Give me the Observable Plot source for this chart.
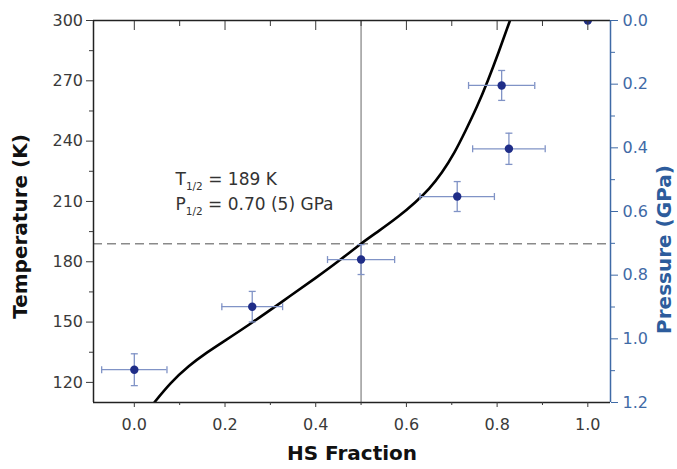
<!DOCTYPE html>
<html><head><meta charset="utf-8">
<script src="https://cdn.jsdelivr.net/npm/d3@7"></script>
<script src="https://cdn.jsdelivr.net/npm/@observablehq/plot@0.6"></script>
<style>body{margin:0;background:#fff}</style>
</head><body><div id="chart"></div>
<script>
// Scale domains and ticks
const xDomain = [-0.09, 1.05];
const tempDomain = [110, 300];
const pressureDomain = [0, 1.2];
const xTicks = [0, 0.2, 0.4, 0.6, 0.8, 1.0];
const xMinorTicks = [0.1, 0.3, 0.5, 0.7, 0.9];
const tempTicks = [120, 150, 180, 210, 240, 270, 300];
const tempMinorTicks = [135, 165, 195, 225, 255, 285];
const pressureTicks = [0, 0.2, 0.4, 0.6, 0.8, 1.0, 1.2];
const pressureMinorTicks = [0.1, 0.3, 0.5, 0.7, 0.9, 1.1];
const halfFraction = 0.5;
const tHalf = 189;
const pHalfText = "0.70 (5)";

// Fitted curve (HS fraction vs temperature)
const curveFraction = [0.044, 0.08, 0.12, 0.16, 0.20, 0.26, 0.33, 0.40, 0.454, 0.50, 0.540, 0.582, 0.619, 0.650, 0.678, 0.7055, 0.7306, 0.7555, 0.7796, 0.803, 0.8284];
const curveTemp = [110, 119.5, 128, 134.8, 140.8, 149.8, 160.8, 172, 181, 189, 195.5, 202.5, 209.5, 216.4, 224.4, 234.3, 245.3, 257.2, 270.2, 284.1, 300];

// Measured points (HS fraction vs pressure)
const hsFraction = [0.0, 0.26, 0.5, 0.712, 0.826, 0.81, 1.0];
const hsError = [0.072, 0.067, 0.074, 0.082, 0.080, 0.073, 0];
const pressure = [1.097, 0.899, 0.751, 0.553, 0.403, 0.204, 0.0];
const pressureError = [0.05, 0.048, 0.047, 0.047, 0.049, 0.047, 0];

const axisBlue = "#3f6aa6", labelBlue = "#2d5c9c", errColor = "#8093c6", dotColor = "#1f2d88";

// twin-axis mapping: pressure axis spans the same frame as the temperature axis
const p2T = p => tempDomain[1] - (p - pressureDomain[0]) / (pressureDomain[1] - pressureDomain[0]) * (tempDomain[1] - tempDomain[0]);

const pts = hsFraction.map((x, i) => ({
  x, xe: hsError[i], T: p2T(pressure[i]),
  T1: p2T(pressure[i] - pressureError[i]), T2: p2T(pressure[i] + pressureError[i])
}));
const bars = pts.filter(d => d.xe > 0);
const curve = curveFraction.map((x, i) => ({x, T: curveTemp[i]}));

const capV = {draw(ctx, size) { const h = Math.sqrt(size / Math.PI); ctx.moveTo(0, -h); ctx.lineTo(0, h); }};
const capH = {draw(ctx, size) { const h = Math.sqrt(size / Math.PI); ctx.moveTo(-h, 0); ctx.lineTo(h, 0); }};
const capStyle = {r: 3.5, stroke: errColor, strokeWidth: 1.3, fill: "none"};
const tickCol = "#3a3a3a";

const chart = Plot.plot({
  width: 677, height: 469,
  marginLeft: 93, marginRight: 67, marginTop: 20, marginBottom: 67,
  style: {fontFamily: "'DejaVu Sans', sans-serif", background: "#fff"},
  x: {domain: xDomain},
  y: {domain: tempDomain},
  marks: [
    Plot.ruleX([halfFraction], {stroke: "#8a8a8a", strokeWidth: 1.3}),
    Plot.ruleY([tHalf], {stroke: "#8a8a8a", strokeWidth: 1.5, strokeDasharray: "9,5"}),
    Plot.line(curve, {x: "x", y: "T", curve: "natural", stroke: "#000", strokeWidth: 2.6, clip: true}),
    Plot.ruleY(bars, {y: "T", x1: d => d.x - d.xe, x2: d => d.x + d.xe, stroke: errColor, strokeWidth: 1.3}),
    Plot.ruleX(bars, {x: "x", y1: "T1", y2: "T2", stroke: errColor, strokeWidth: 1.3}),
    Plot.dot(bars, {x: d => d.x - d.xe, y: "T", symbol: capV, ...capStyle}),
    Plot.dot(bars, {x: d => d.x + d.xe, y: "T", symbol: capV, ...capStyle}),
    Plot.dot(bars, {x: "x", y: "T1", symbol: capH, ...capStyle}),
    Plot.dot(bars, {x: "x", y: "T2", symbol: capH, ...capStyle}),
    Plot.dot(pts, {x: "x", y: "T", r: 4.2, fill: dotColor, stroke: "none", clip: true}),
    // frame
    Plot.ruleY([tempDomain[1]], {stroke: "#222", strokeWidth: 1.5}),
    Plot.ruleY([tempDomain[0]], {stroke: "#222", strokeWidth: 1.5}),
    Plot.ruleX([xDomain[0]], {stroke: "#222", strokeWidth: 1.5}),
    Plot.ruleX([xDomain[1]], {stroke: axisBlue, strokeWidth: 1.5}),
    // axes
    Plot.axisY(tempTicks, {anchor: "left", tickSize: 7, tickPadding: 3.5, fontSize: 16, color: tickCol, label: null, tickFormat: d => String(d)}),
    Plot.axisY(tempMinorTicks, {anchor: "left", tickSize: 4, color: tickCol, label: null, tickFormat: () => ""}),
    Plot.axisX(xTicks, {anchor: "bottom", tickSize: 5, tickPadding: 11, fontSize: 16, color: tickCol, label: null, tickFormat: d3.format(".1f")}),
    Plot.axisX(xMinorTicks, {anchor: "bottom", tickSize: 3, color: tickCol, label: null, tickFormat: () => ""}),
    Plot.axisX(xTicks, {anchor: "top", tickSize: -9, color: tickCol, label: null, tickFormat: () => ""}),
    Plot.axisX(xMinorTicks, {anchor: "top", tickSize: -5, color: tickCol, label: null, tickFormat: () => ""}),
    Plot.axisY(pressureTicks.map(p2T), {anchor: "right", tickSize: 7, tickPadding: 5, fontSize: 16, color: axisBlue, label: null,
      tickFormat: t => d3.format(".1f")(pressureDomain[0] + (tempDomain[1] - t) / (tempDomain[1] - tempDomain[0]) * (pressureDomain[1] - pressureDomain[0]))}),
    Plot.axisY(pressureMinorTicks.map(p2T), {anchor: "right", tickSize: 4, color: axisBlue, label: null, tickFormat: () => ""}),
    // annotation
    Plot.text([`T1/2 = ${tHalf} K`], {text: d => d, frameAnchor: "top-left", dx: 82, dy: 152, textAnchor: "start", fontSize: 17, fill: "#333"}),
    Plot.text([`P1/2 = ${pHalfText} GPa`], {text: d => d, frameAnchor: "top-left", dx: 82, dy: 177, textAnchor: "start", fontSize: 17, fill: "#333"}),
    // axis labels
    Plot.text(["Temperature (K)"], {text: d => d, frameAnchor: "left", textAnchor: "middle", rotate: -90, dx: -73, dy: 15, fontWeight: "bold", fontSize: 20, fill: "#111"}),
    Plot.text(["Pressure (GPa)"], {text: d => d, frameAnchor: "right", textAnchor: "middle", rotate: -90, dx: 54, dy: 38, fontWeight: "bold", fontSize: 20, fill: labelBlue}),
    Plot.text(["HS Fraction"], {text: d => d, frameAnchor: "bottom", dy: 57, fontWeight: "bold", fontSize: 20, fill: "#111"})
  ]
});
document.getElementById("chart").appendChild(chart);

// subscripts for T1/2 and P1/2
chart.querySelectorAll("text").forEach(t => {
  const m = t.textContent.match(/^([TP])1\/2(.*)$/);
  if (!m) return;
  t.textContent = "";
  const ns = "http://www.w3.org/2000/svg";
  const a = document.createElementNS(ns, "tspan"); a.textContent = m[1];
  const b = document.createElementNS(ns, "tspan"); b.textContent = "1/2"; b.setAttribute("font-size", "10.5"); b.setAttribute("dy", "5");
  const c = document.createElementNS(ns, "tspan"); c.textContent = m[2]; c.setAttribute("dy", "-5");
  t.append(a, b, c);
});
</script>
</body></html>
